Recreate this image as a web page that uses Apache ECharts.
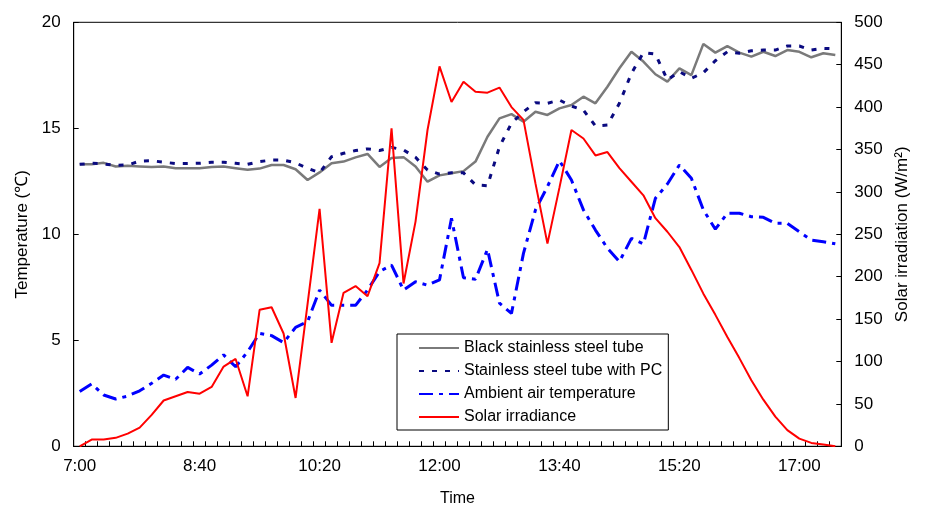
<!DOCTYPE html>
<html>
<head>
<meta charset="utf-8">
<script src="https://cdn.jsdelivr.net/npm/echarts@6/dist/echarts.min.js"></script>
<style>
html,body{margin:0;padding:0;background:#fff;}
#chart{width:932px;height:516px;}
</style>
</head>
<body>
<div id="chart"></div>
<script>
var times = ["7:00","7:10","7:20","7:30","7:40","7:50","8:00","8:10","8:20","8:30",
  "8:40","8:50","9:00","9:10","9:20","9:30","9:40","9:50","10:00","10:10",
  "10:20","10:30","10:40","10:50","11:00","11:10","11:20","11:30","11:40","11:50",
  "12:00","12:10","12:20","12:30","12:40","12:50","13:00","13:10","13:20","13:30",
  "13:40","13:50","14:00","14:10","14:20","14:30","14:40","14:50","15:00","15:10",
  "15:20","15:30","15:40","15:50","16:00","16:10","16:20","16:30","16:40","16:50",
  "17:00","17:10","17:20","17:30"];

var blackTube = [13.3,13.3,13.37,13.2,13.23,13.2,13.17,13.2,13.12,13.12,
  13.12,13.17,13.2,13.12,13.04,13.1,13.27,13.27,13.07,12.56,
  12.92,13.35,13.43,13.63,13.79,13.18,13.6,13.64,13.2,12.48,
  12.78,12.88,12.98,13.43,14.6,15.47,15.67,15.31,15.78,15.63,
  15.94,16.1,16.49,16.18,16.96,17.83,18.61,18.15,17.55,17.2,
  17.83,17.51,18.98,18.57,18.88,18.57,18.38,18.61,18.41,18.69,
  18.61,18.35,18.54,18.46];

var pcTube = [13.3,13.35,13.32,13.25,13.27,13.45,13.47,13.4,13.34,13.34,
  13.35,13.4,13.4,13.35,13.3,13.43,13.5,13.5,13.37,13.11,
  12.9,13.66,13.82,13.95,14.03,13.95,14.1,13.98,13.63,13.03,
  12.84,12.9,12.9,12.33,12.29,14.13,15.24,15.78,16.21,16.18,
  16.33,16.05,15.86,15.11,15.15,16.18,17.59,18.57,18.5,17.28,
  17.67,17.36,17.62,18.19,18.61,18.54,18.66,18.69,18.69,18.88,
  18.88,18.69,18.77,18.75];

var ambient = [2.58,2.94,2.42,2.23,2.37,2.62,2.97,3.36,3.16,3.72,
  3.41,3.83,4.31,3.75,4.46,5.33,5.22,4.89,5.61,5.88,
  7.37,6.65,6.65,6.65,7.37,8.24,8.55,7.37,7.76,7.6,
  7.85,10.75,7.95,7.88,9.29,6.75,6.27,9.1,11.15,12.25,
  13.47,12.56,11.15,10.2,9.34,8.71,9.81,9.55,11.7,12.37,
  13.27,12.64,11.15,10.24,10.99,10.99,10.83,10.8,10.52,10.52,
  10.12,9.73,9.65,9.55];

var irradiance = [0,8,8,10,15,22,37,54,59,64,
  62,70,94,103,59,161,164,133,57,168,
  280,122,181,189,177,216,375,192,265,373,
  448,406,430,418,417,423,400,385,310,239,
  305,373,363,343,347,328,312,296,269,253,
  235,208,180,155,129,104,78,55,35,19,
  9,4,2,0];

var seriesNames = ["Black stainless steel tube","Stainless steel tube with PC","Ambient air temperature","Solar irradiance"];

var FONT = "'Liberation Sans', Arial, sans-serif";
var chart = echarts.init(document.getElementById('chart'), null, {renderer:'canvas'});

var axisLine = {show:true, lineStyle:{color:'#000', width:1}};
var labelStyle = {color:'#000', fontSize:17, fontFamily:FONT};

chart.setOption({
  animation:false,
  backgroundColor:'#fff',
  grid:{left:73.7, right:90.7, top:22.3, bottom:69.7, show:true, borderColor:'#000', borderWidth:1, backgroundColor:'transparent'},
  legend:{
    orient:'vertical', left:397, top:334,
    itemWidth:40, itemHeight:14, itemGap:7,
    padding:[6,6,5,21],
    borderColor:'#000', borderWidth:1,
    backgroundColor:'#fff',
    itemStyle:{opacity:0},
    textStyle:{color:'#000', fontSize:16, fontFamily:FONT},
    data:seriesNames
  },
  xAxis:{
    type:'category', data:times, boundaryGap:true,
    name:'Time', nameLocation:'middle', nameGap:44,
    nameTextStyle:{color:'#000', fontSize:16, fontFamily:FONT},
    axisLine:axisLine,
    axisTick:{show:true, inside:true, length:5, interval:0, lineStyle:{color:'#000'}},
    axisLabel:Object.assign({interval:9, margin:12}, labelStyle),
    splitLine:{show:false}
  },
  yAxis:[{
    type:'value', min:0, max:20, interval:5,
    name:'Temperature (\u2103)', nameLocation:'middle', nameGap:34, nameRotate:90,
    nameTextStyle:{color:'#000', fontSize:17, fontFamily:FONT},
    axisLine:axisLine,
    axisTick:{show:true, inside:true, length:5, lineStyle:{color:'#000'}},
    axisLabel:Object.assign({margin:13}, labelStyle),
    splitLine:{show:false}
  },{
    type:'value', min:0, max:500, interval:50, position:'right',
    name:'Solar irradiation (W/m\u00B2)', nameLocation:'middle', nameGap:46, nameRotate:90,
    nameTextStyle:{color:'#000', fontSize:17, fontFamily:FONT},
    axisLine:axisLine,
    axisTick:{show:true, inside:true, length:5, lineStyle:{color:'#000'}},
    axisLabel:Object.assign({margin:13}, labelStyle),
    splitLine:{show:false}
  }],
  series:[{
    name:seriesNames[0], type:'line', data:blackTube, yAxisIndex:0,
    symbol:'none', color:'#7a7a7a',
    lineStyle:{color:'#7a7a7a', width:2.5}
  },{
    name:seriesNames[1], type:'line', data:pcTube, yAxisIndex:0,
    symbol:'none', color:'#0a0a80',
    lineStyle:{color:'#0a0a80', width:3, type:[5,8]}
  },{
    name:seriesNames[2], type:'line', data:ambient, yAxisIndex:0,
    symbol:'none', color:'#0000ff',
    lineStyle:{color:'#0000ff', width:3, type:[14,6,4,6]}
  },{
    name:seriesNames[3], type:'line', data:irradiance, yAxisIndex:1,
    symbol:'none', color:'#ff0000',
    lineStyle:{color:'#ff0000', width:2}
  }]
});
</script>
</body>
</html>
